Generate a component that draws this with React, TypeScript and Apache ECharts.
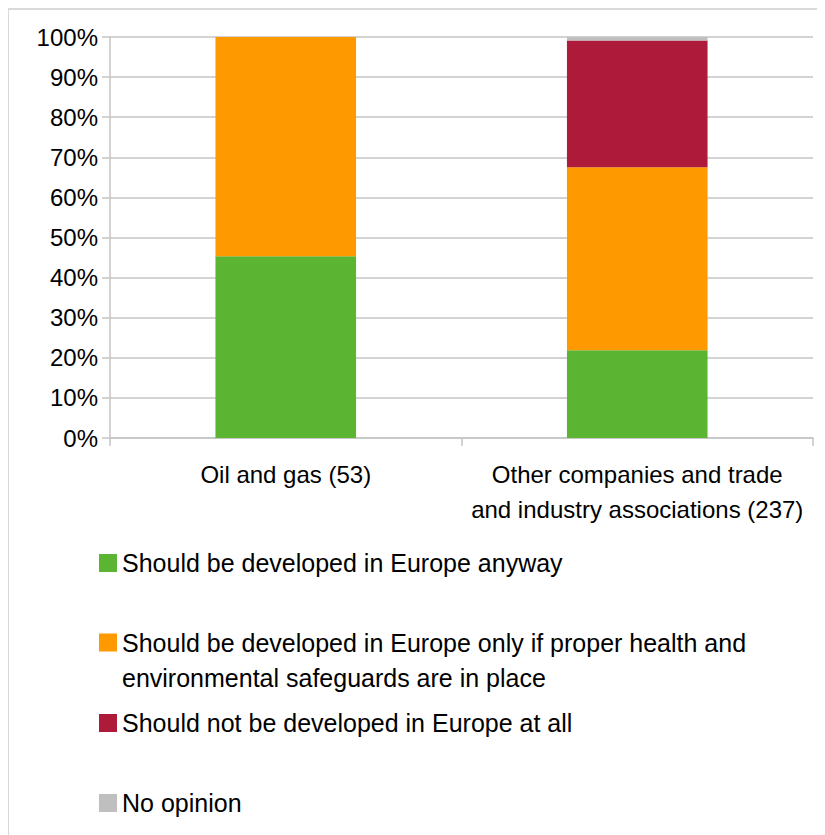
import React, { useEffect, useRef } from "react";
import * as echarts from "echarts";

const categories = ["Oil and gas (53)", "Other companies and trade\nand industry associations (237)"];
const seriesNames = [
  "Should be developed in Europe anyway",
  "Should be developed in Europe only if proper health and environmental safeguards are in place",
  "Should not be developed in Europe at all",
  "No opinion",
];
const developAnyway = [45.3, 21.9];
const developIfSafe = [54.7, 45.6];
const notDeveloped = [0, 31.6];
const noOpinion = [0, 0.9];
const yTicks = [0, 10, 20, 30, 40, 50, 60, 70, 80, 90, 100];

const colors = ["#5BB533", "#FF9900", "#AD1A3A", "#BFBFBF"];
const FONT = "'Liberation Sans', sans-serif";

export default function App() {
  const ref = useRef<HTMLDivElement>(null);
  useEffect(() => {
    if (!ref.current) return;
    const chart = echarts.init(ref.current, undefined, { renderer: "svg" });
    const values = [developAnyway, developIfSafe, notDeveloped, noOpinion];
    const legendTops = [540, 582, 700, 780];
    const legends = seriesNames.map((n, i) => ({
      data: [n],
      left: 91,
      top: legendTops[i],
      padding: 0,
      itemWidth: 18,
      itemHeight: 18,
      itemGap: 6,
      icon: "rect",
      selectedMode: false,
      formatter: (name: string) =>
        i === 1
          ? " \nShould be developed in Europe only if proper health and\nenvironmental safeguards are in place"
          : name,
      textStyle: { fontFamily: FONT, fontSize: 25, color: "#000", lineHeight: i === 1 ? 35 : 30 },
    }));
    chart.setOption({
      animation: false,
      color: colors,
      grid: { left: 102, right: 12, top: 29, bottom: 397, containLabel: false },
      legend: legends,
      graphic: [
        {
          type: "rect",
          shape: { x: 0, y: 1, width: 840, height: 850 },
          style: { fill: "none", stroke: "#D9D9D9", lineWidth: 2 },
          silent: true,
        },
      ],
      xAxis: {
        type: "category",
        data: categories,
        axisLine: { lineStyle: { color: "#C4C4C4", width: 1.5 } },
        axisTick: { show: true, length: 8, alignWithLabel: false, lineStyle: { color: "#C4C4C4", width: 1.5 } },
        axisLabel: { fontFamily: FONT, fontSize: 24, color: "#000", lineHeight: 35, margin: 19, interval: 0 },
      },
      yAxis: {
        type: "value",
        min: 0,
        max: yTicks[yTicks.length - 1],
        interval: 10,
        axisLine: { show: true, lineStyle: { color: "#C4C4C4", width: 1.5 } },
        axisTick: { show: true, length: 8, lineStyle: { color: "#C4C4C4", width: 1.5 } },
        splitLine: { lineStyle: { color: "#C4C4C4", width: 1.5 } },
        axisLabel: { fontFamily: FONT, fontSize: 24, color: "#000", formatter: "{value}%", margin: 12 },
      },
      series: seriesNames.map((n, i) => ({
        name: n,
        type: "bar",
        stack: "total",
        barWidth: "40%",
        data: values[i],
        itemStyle: { color: colors[i] },
      })),
    });
    return () => chart.dispose();
  }, []);
  return <div ref={ref} style={{ width: 817, height: 827 }} />;
}
